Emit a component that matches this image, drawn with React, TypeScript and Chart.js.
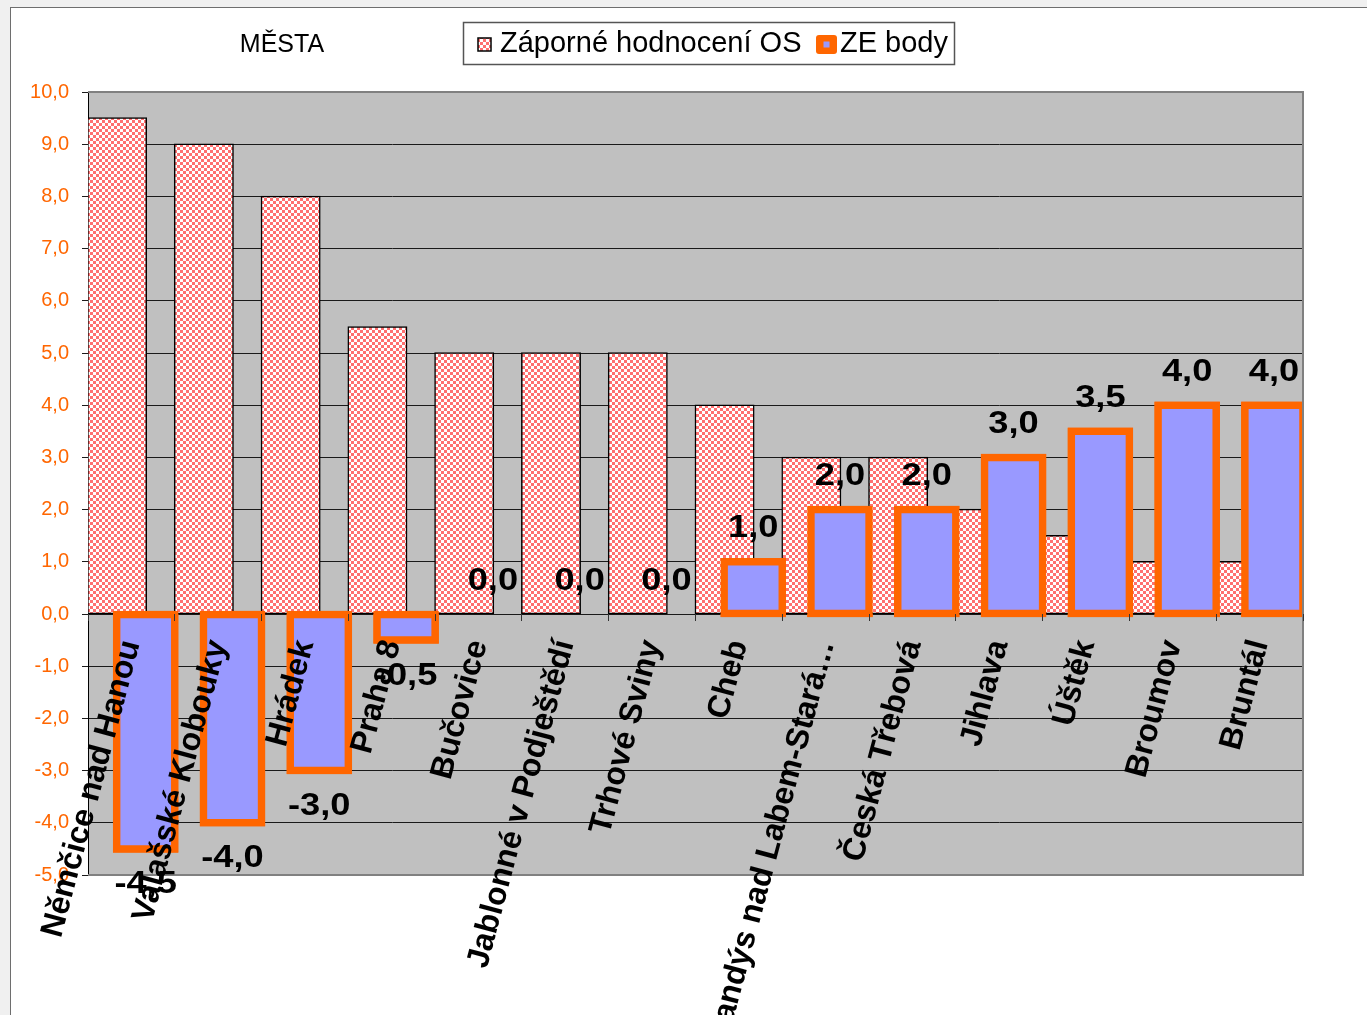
import React, { useEffect, useRef } from 'react';
import { Chart, registerables } from 'chart.js';

Chart.register(...registerables);

// ---------- data ----------
const categories: string[] = [
  'Němčice nad Hanou',
  'Valašské Klobouky',
  'Hrádek',
  'Praha 8',
  'Bučovice',
  'Jablonné v Podještědí',
  'Trhové Sviny',
  'Cheb',
  'Brandýs nad Labem-Stará…',
  'Česká Třebová',
  'Jihlava',
  'Úštěk',
  'Broumov',
  'Bruntál',
];
const zaporneHodnoceniOS: number[] = [9.5, 9.0, 8.0, 5.5, 5.0, 5.0, 5.0, 4.0, 3.0, 3.0, 2.0, 1.5, 1.0, 1.0];
const zeBody: number[] = [-4.5, -4.0, -3.0, -0.5, 0.0, 0.0, 0.0, 1.0, 2.0, 2.0, 3.0, 3.5, 4.0, 4.0];
const seriesNames: string[] = ['Záporné hodnocení OS', 'ZE body'];
const chartTitle = 'MĚSTA';
const yTickRange = { min: -5, max: 10, step: 1 };

// ---------- styles ----------
const FONT = "'Liberation Sans', Arial, sans-serif";
const PLOT_BG = '#C0C0C0';
const BLUE = '#9999FF';
const ORANGE = '#FF6600';

const fmt = (v: number) => v.toFixed(1).replace('.', ',');

function makeCheckerPattern(): CanvasPattern | string {
  const c = document.createElement('canvas');
  c.width = 6;
  c.height = 6;
  const g = c.getContext('2d');
  if (!g) return '#ffb0b0';
  g.fillStyle = '#ffffff';
  g.fillRect(0, 0, 6, 6);
  g.fillStyle = '#ff7070';
  g.fillRect(0, 0, 3, 3);
  g.fillRect(3, 3, 3, 3);
  return g.createPattern(c, 'repeat') || '#ffb0b0';
}

const plotFramePlugin = {
  id: 'plotFrame',
  beforeDraw(chart: any) {
    const { ctx, chartArea: a } = chart;
    ctx.save();
    ctx.fillStyle = PLOT_BG;
    ctx.fillRect(a.left, a.top, a.right - a.left, a.bottom - a.top);
    ctx.restore();
  },
  afterDatasetsDraw(chart: any) {
    const { ctx, chartArea: a } = chart;
    // second series drawn above the first one (as in the original)
    const meta = chart.getDatasetMeta(1);
    ctx.save();
    ctx.beginPath();
    ctx.rect(a.left, a.top, a.right - a.left, a.bottom - a.top);
    ctx.clip();
    meta.controller.draw();
    ctx.restore();
    // frame
    ctx.save();
    ctx.strokeStyle = '#808080';
    ctx.lineWidth = 2;
    ctx.beginPath();
    ctx.moveTo(a.left, a.top);
    ctx.lineTo(a.right, a.top);
    ctx.lineTo(a.right, a.bottom);
    ctx.lineTo(a.left, a.bottom);
    ctx.stroke();
    ctx.restore();
  },
};

const labelsPlugin = {
  id: 'valueLabels',
  afterDraw(chart: any) {
    const { ctx } = chart;
    const meta = chart.getDatasetMeta(1);
    const yScale = chart.scales.y;
    ctx.save();
    ctx.fillStyle = '#000';
    ctx.font = `bold 31px ${FONT}`;
    ctx.textAlign = 'center';
    ctx.textBaseline = 'middle';
    zeBody.forEach((v, i) => {
      const el = meta.data[i];
      if (!el) return;
      const py = yScale.getPixelForValue(v);
      const cy = v >= 0 ? py - 33 : py + 36;
      ctx.save();
      ctx.translate(el.x, cy);
      ctx.scale(1.17, 1);
      ctx.fillText(fmt(v), 0, 0);
      ctx.restore();
    });
    ctx.restore();
  },
};

const headerPlugin = {
  id: 'header',
  afterDraw(chart: any) {
    const { ctx } = chart;
    const ds = chart.data.datasets;
    ctx.save();
    // title
    ctx.fillStyle = '#000';
    ctx.font = `25px ${FONT}`;
    ctx.textAlign = 'center';
    ctx.textBaseline = 'alphabetic';
    ctx.fillText(chartTitle, 282, 52);
    // legend box
    ctx.fillStyle = '#fff';
    ctx.fillRect(463, 22, 492, 43);
    ctx.strokeStyle = '#555';
    ctx.lineWidth = 1.5;
    ctx.strokeRect(463.5, 22.5, 491, 42);
    // item 1
    ctx.fillStyle = ds[0].backgroundColor;
    ctx.fillRect(478, 38, 13, 13);
    ctx.strokeStyle = '#000';
    ctx.lineWidth = 1.5;
    ctx.strokeRect(478, 38, 13, 13);
    ctx.fillStyle = '#000';
    ctx.font = `29px ${FONT}`;
    ctx.textAlign = 'left';
    ctx.fillText(ds[0].label, 500, 52);
    // item 2
    ctx.fillStyle = ORANGE;
    ctx.beginPath();
    (ctx as any).roundRect ? (ctx as any).roundRect(816, 35, 21, 19, 3) : ctx.rect(816, 35, 21, 19);
    ctx.fill();
    ctx.fillStyle = BLUE;
    ctx.fillRect(823.5, 41.5, 6, 6);
    ctx.fillStyle = '#000';
    ctx.fillText(ds[1].label, 840, 52);
    ctx.restore();
  },
};

export default function App() {
  const canvasRef = useRef<HTMLCanvasElement | null>(null);

  useEffect(() => {
    const canvas = canvasRef.current;
    if (!canvas) return;
    const pattern = makeCheckerPattern();
    const zeroAware = (normal: number) => (c: any) => (c.raw === 0 ? 0 : normal);

    const chart = new Chart(canvas, {
      type: 'bar',
      data: {
        labels: categories,
        datasets: [
          {
            label: seriesNames[0],
            data: zaporneHodnoceniOS,
            backgroundColor: pattern as any,
            borderColor: '#000',
            borderWidth: 1.5,
            borderSkipped: false,
            inflateAmount: 0.75,
            categoryPercentage: 0.66,
            barPercentage: 2.04,
          } as any,
          {
            label: seriesNames[1],
            data: zeBody,
            backgroundColor: BLUE,
            borderColor: ORANGE,
            borderWidth: zeroAware(7.5),
            borderSkipped: false,
            inflateAmount: zeroAware(3.75),
            categoryPercentage: 0.66,
            barPercentage: 2.03,
          } as any,
        ],
      },
      options: {
        animation: false,
        responsive: false,
        maintainAspectRatio: false,
        devicePixelRatio: 1,
        events: [],
        layout: { padding: { left: 0, right: 64, top: 92, bottom: 140 } },
        plugins: {
          legend: { display: false },
          title: { display: false },
          tooltip: { enabled: false },
        },
        scales: {
          x: {
            type: 'category',
            position: { y: 0 } as any,
            offset: true,
            grid: {
              z: 1,
              offset: true,
              drawOnChartArea: false,
              drawTicks: true,
              tickLength: 7,
              color: '#333',
            },
            border: { display: false },
            ticks: {
              z: 1,
              autoSkip: false,
              minRotation: 75,
              maxRotation: 75,
              padding: 15,
              color: '#000',
              font: { family: FONT, weight: 'bold', size: 32 },
            },
            afterFit: (s: any) => {
              s.paddingLeft = 0;
              s.paddingRight = 0;
              s.paddingTop = 0;
              s.paddingBottom = 0;
            },
          } as any,
          y: {
            min: yTickRange.min,
            max: yTickRange.max,
            ticks: {
              stepSize: yTickRange.step,
              color: ORANGE,
              padding: 13,
              font: { family: FONT, size: 20 },
              callback: (v: any) => fmt(Number(v)),
            },
            grid: { color: '#1a1a1a', lineWidth: 1, tickLength: 6, drawTicks: true },
            border: { display: true, color: '#000', width: 1 },
            afterFit: (s: any) => {
              s.width = 88;
            },
          } as any,
        },
      },
      plugins: [plotFramePlugin, labelsPlugin, headerPlugin],
    });
    return () => chart.destroy();
  }, []);

  return (
    <div style={{ position: 'fixed', left: 0, top: 0, right: 0, bottom: 0, background: '#f0f0f0', overflow: 'hidden' }}>
      <div
        style={{
          position: 'absolute',
          left: 10,
          top: 7,
          width: 1400,
          height: 1100,
          background: '#fff',
          borderLeft: '1.5px solid #6e6e6e',
          borderTop: '1.5px solid #6e6e6e',
        }}
      />
      <canvas
        ref={canvasRef}
        width={1367}
        height={1015}
        style={{ position: 'absolute', left: 0, top: 0, width: 1367, height: 1015 }}
      />
    </div>
  );
}
